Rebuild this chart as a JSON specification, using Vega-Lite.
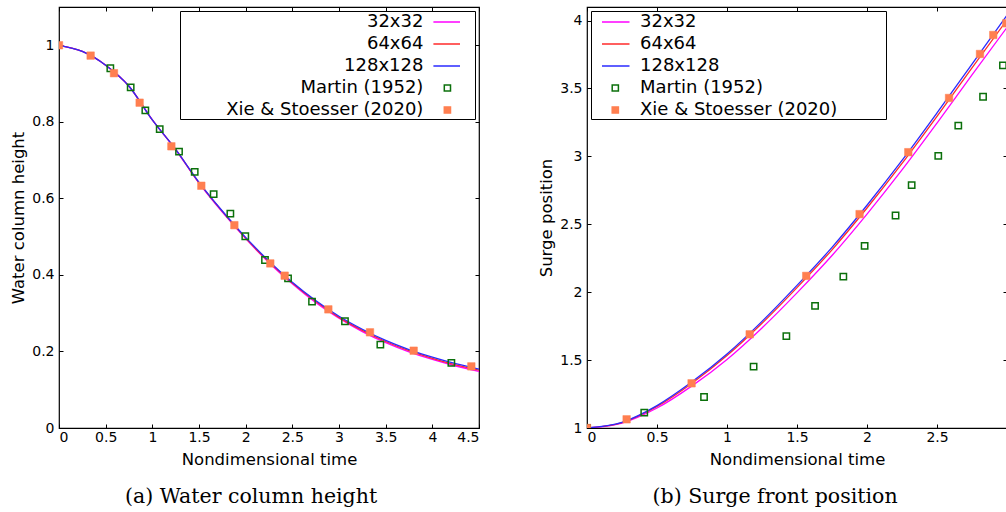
{
  "$schema": "https://vega.github.io/schema/vega-lite/v6.json",
  "padding": {"left": 10, "top": 5, "right": 0, "bottom": 0},
  "spacing": 57,
  "config": {
    "view": {"stroke": "#000", "strokeWidth": 1.2},
    "font": "DejaVu Sans",
    "axis": {"grid": false, "domain": false, "tickColor": "#000", "tickSize": -4, "tickWidth": 1, "labelFont": "DejaVu Sans", "labelFontSize": 14, "labelColor": "#000", "titleFont": "DejaVu Sans", "titleFontSize": 16.5, "titleFontWeight": "normal", "titleColor": "#000"},
    "axisX": {"labelPadding": 6, "titlePadding": 7},
    "axisY": {"labelPadding": 9, "titlePadding": 5}
  },
  "resolve": {"scale": {"color": "independent"}, "legend": {"color": "independent"}},
  "datasets": {
    "d": [
      {"p":"a","s":"32x32","t":0,"v":1.0},{"p":"a","s":"32x32","t":0.25,"v":0.984},{"p":"a","s":"32x32","t":0.5,"v":0.948},{"p":"a","s":"32x32","t":0.75,"v":0.893},{"p":"a","s":"32x32","t":1,"v":0.805},{"p":"a","s":"32x32","t":1.25,"v":0.727},{"p":"a","s":"32x32","t":1.5,"v":0.640},{"p":"a","s":"32x32","t":1.75,"v":0.564},{"p":"a","s":"32x32","t":2,"v":0.495},{"p":"a","s":"32x32","t":2.25,"v":0.432},{"p":"a","s":"32x32","t":2.5,"v":0.377},{"p":"a","s":"32x32","t":2.75,"v":0.328},{"p":"a","s":"32x32","t":3,"v":0.287},{"p":"a","s":"32x32","t":3.25,"v":0.252},{"p":"a","s":"32x32","t":3.5,"v":0.223},{"p":"a","s":"32x32","t":3.75,"v":0.199},{"p":"a","s":"32x32","t":4,"v":0.179},{"p":"a","s":"32x32","t":4.25,"v":0.162},{"p":"a","s":"32x32","t":4.5,"v":0.148},
      {"p":"a","s":"64x64","t":0,"v":1.0},{"p":"a","s":"64x64","t":0.25,"v":0.984},{"p":"a","s":"64x64","t":0.5,"v":0.948},{"p":"a","s":"64x64","t":0.75,"v":0.893},{"p":"a","s":"64x64","t":1,"v":0.805},{"p":"a","s":"64x64","t":1.25,"v":0.728},{"p":"a","s":"64x64","t":1.5,"v":0.641},{"p":"a","s":"64x64","t":1.75,"v":0.566},{"p":"a","s":"64x64","t":2,"v":0.496},{"p":"a","s":"64x64","t":2.25,"v":0.434},{"p":"a","s":"64x64","t":2.5,"v":0.379},{"p":"a","s":"64x64","t":2.75,"v":0.331},{"p":"a","s":"64x64","t":3,"v":0.289},{"p":"a","s":"64x64","t":3.25,"v":0.255},{"p":"a","s":"64x64","t":3.5,"v":0.226},{"p":"a","s":"64x64","t":3.75,"v":0.202},{"p":"a","s":"64x64","t":4,"v":0.182},{"p":"a","s":"64x64","t":4.25,"v":0.165},{"p":"a","s":"64x64","t":4.5,"v":0.151},
      {"p":"a","s":"128x128","t":0,"v":1.0},{"p":"a","s":"128x128","t":0.25,"v":0.984},{"p":"a","s":"128x128","t":0.5,"v":0.948},{"p":"a","s":"128x128","t":0.75,"v":0.893},{"p":"a","s":"128x128","t":1,"v":0.805},{"p":"a","s":"128x128","t":1.25,"v":0.728},{"p":"a","s":"128x128","t":1.5,"v":0.642},{"p":"a","s":"128x128","t":1.75,"v":0.567},{"p":"a","s":"128x128","t":2,"v":0.498},{"p":"a","s":"128x128","t":2.25,"v":0.436},{"p":"a","s":"128x128","t":2.5,"v":0.381},{"p":"a","s":"128x128","t":2.75,"v":0.333},{"p":"a","s":"128x128","t":3,"v":0.292},{"p":"a","s":"128x128","t":3.25,"v":0.258},{"p":"a","s":"128x128","t":3.5,"v":0.229},{"p":"a","s":"128x128","t":3.75,"v":0.205},{"p":"a","s":"128x128","t":4,"v":0.185},{"p":"a","s":"128x128","t":4.25,"v":0.168},{"p":"a","s":"128x128","t":4.5,"v":0.154},
      {"p":"a","s":"Martin (1952)","t":0.55,"v":0.94},{"p":"a","s":"Martin (1952)","t":0.768,"v":0.89},{"p":"a","s":"Martin (1952)","t":0.925,"v":0.83},{"p":"a","s":"Martin (1952)","t":1.079,"v":0.781},{"p":"a","s":"Martin (1952)","t":1.286,"v":0.722},{"p":"a","s":"Martin (1952)","t":1.454,"v":0.669},{"p":"a","s":"Martin (1952)","t":1.657,"v":0.611},{"p":"a","s":"Martin (1952)","t":1.836,"v":0.56},{"p":"a","s":"Martin (1952)","t":1.996,"v":0.501},{"p":"a","s":"Martin (1952)","t":2.207,"v":0.439},{"p":"a","s":"Martin (1952)","t":2.454,"v":0.391},{"p":"a","s":"Martin (1952)","t":2.711,"v":0.33},{"p":"a","s":"Martin (1952)","t":3.064,"v":0.279},{"p":"a","s":"Martin (1952)","t":3.443,"v":0.218},{"p":"a","s":"Martin (1952)","t":4.204,"v":0.17},
      {"p":"a","s":"Xie & Stoesser (2020)","t":0,"v":1.0},{"p":"a","s":"Xie & Stoesser (2020)","t":0.339,"v":0.973},{"p":"a","s":"Xie & Stoesser (2020)","t":0.589,"v":0.927},{"p":"a","s":"Xie & Stoesser (2020)","t":0.864,"v":0.85},{"p":"a","s":"Xie & Stoesser (2020)","t":1.204,"v":0.736},{"p":"a","s":"Xie & Stoesser (2020)","t":1.525,"v":0.633},{"p":"a","s":"Xie & Stoesser (2020)","t":1.879,"v":0.53},{"p":"a","s":"Xie & Stoesser (2020)","t":2.264,"v":0.43},{"p":"a","s":"Xie & Stoesser (2020)","t":2.418,"v":0.398},{"p":"a","s":"Xie & Stoesser (2020)","t":2.886,"v":0.31},{"p":"a","s":"Xie & Stoesser (2020)","t":3.332,"v":0.25},{"p":"a","s":"Xie & Stoesser (2020)","t":3.8,"v":0.202},{"p":"a","s":"Xie & Stoesser (2020)","t":4.418,"v":0.161},
      {"p":"b","s":"32x32","t":0,"v":1.0},{"p":"b","s":"32x32","t":0.25,"v":1.036},{"p":"b","s":"32x32","t":0.5,"v":1.147},{"p":"b","s":"32x32","t":0.75,"v":1.31},{"p":"b","s":"32x32","t":1,"v":1.505},{"p":"b","s":"32x32","t":1.25,"v":1.737},{"p":"b","s":"32x32","t":1.5,"v":1.995},{"p":"b","s":"32x32","t":1.75,"v":2.27},{"p":"b","s":"32x32","t":2,"v":2.575},{"p":"b","s":"32x32","t":2.25,"v":2.9},{"p":"b","s":"32x32","t":2.5,"v":3.245},{"p":"b","s":"32x32","t":2.75,"v":3.6},{"p":"b","s":"32x32","t":3,"v":3.95},
      {"p":"b","s":"64x64","t":0,"v":1.0},{"p":"b","s":"64x64","t":0.25,"v":1.04},{"p":"b","s":"64x64","t":0.5,"v":1.159},{"p":"b","s":"64x64","t":0.75,"v":1.33},{"p":"b","s":"64x64","t":1,"v":1.533},{"p":"b","s":"64x64","t":1.25,"v":1.771},{"p":"b","s":"64x64","t":1.5,"v":2.034},{"p":"b","s":"64x64","t":1.75,"v":2.312},{"p":"b","s":"64x64","t":2,"v":2.62},{"p":"b","s":"64x64","t":2.25,"v":2.948},{"p":"b","s":"64x64","t":2.5,"v":3.295},{"p":"b","s":"64x64","t":2.75,"v":3.652},{"p":"b","s":"64x64","t":3,"v":4.005},
      {"p":"b","s":"128x128","t":0,"v":1.0},{"p":"b","s":"128x128","t":0.25,"v":1.042},{"p":"b","s":"128x128","t":0.5,"v":1.165},{"p":"b","s":"128x128","t":0.75,"v":1.34},{"p":"b","s":"128x128","t":1,"v":1.545},{"p":"b","s":"128x128","t":1.25,"v":1.785},{"p":"b","s":"128x128","t":1.5,"v":2.05},{"p":"b","s":"128x128","t":1.75,"v":2.33},{"p":"b","s":"128x128","t":2,"v":2.64},{"p":"b","s":"128x128","t":2.25,"v":2.97},{"p":"b","s":"128x128","t":2.5,"v":3.32},{"p":"b","s":"128x128","t":2.75,"v":3.68},{"p":"b","s":"128x128","t":3,"v":4.04},
      {"p":"b","s":"Martin (1952)","t":0,"v":1.0},{"p":"b","s":"Martin (1952)","t":0.409,"v":1.113},{"p":"b","s":"Martin (1952)","t":0.836,"v":1.228},{"p":"b","s":"Martin (1952)","t":1.19,"v":1.452},{"p":"b","s":"Martin (1952)","t":1.424,"v":1.676},{"p":"b","s":"Martin (1952)","t":1.629,"v":1.899},{"p":"b","s":"Martin (1952)","t":1.831,"v":2.115},{"p":"b","s":"Martin (1952)","t":1.983,"v":2.341},{"p":"b","s":"Martin (1952)","t":2.204,"v":2.565},{"p":"b","s":"Martin (1952)","t":2.319,"v":2.788},{"p":"b","s":"Martin (1952)","t":2.509,"v":3.004},{"p":"b","s":"Martin (1952)","t":2.652,"v":3.226},{"p":"b","s":"Martin (1952)","t":2.829,"v":3.439},{"p":"b","s":"Martin (1952)","t":2.971,"v":3.67},
      {"p":"b","s":"Xie & Stoesser (2020)","t":0,"v":1.0},{"p":"b","s":"Xie & Stoesser (2020)","t":0.283,"v":1.064},{"p":"b","s":"Xie & Stoesser (2020)","t":0.747,"v":1.329},{"p":"b","s":"Xie & Stoesser (2020)","t":1.162,"v":1.69},{"p":"b","s":"Xie & Stoesser (2020)","t":1.566,"v":2.12},{"p":"b","s":"Xie & Stoesser (2020)","t":1.947,"v":2.575},{"p":"b","s":"Xie & Stoesser (2020)","t":2.295,"v":3.031},{"p":"b","s":"Xie & Stoesser (2020)","t":2.586,"v":3.43},{"p":"b","s":"Xie & Stoesser (2020)","t":2.807,"v":3.754},{"p":"b","s":"Xie & Stoesser (2020)","t":2.902,"v":3.894},{"p":"b","s":"Xie & Stoesser (2020)","t":2.995,"v":3.98}
    ]
  },
  "hconcat": [
    {
      "width": 420, "height": 421,
      "title": {"text": "(a) Water column height", "orient": "bottom", "frame": "bounds", "anchor": "middle", "font": "DejaVu Serif", "fontSize": 20.5, "fontWeight": "normal", "color": "#000", "offset": 19, "dx": 6},
      "data": {"name": "d"},
      "transform": [{"filter": "datum.p == 'a'"}],
      "resolve": {"axis": {"x": "independent", "y": "independent"}},
      "layer": [
        {
          "transform": [{"filter": {"field": "s", "oneOf": ["32x32", "64x64", "128x128"]}}],
          "mark": {"type": "line", "clip": true, "strokeWidth": 1.3, "interpolate": "monotone"},
          "encoding": {
            "x": {"field": "t", "type": "quantitative", "scale": {"domain": [0, 4.5], "nice": false, "zero": false}, "axis": {"title": "Nondimensional time", "values": [0, 0.5, 1, 1.5, 2, 2.5, 3, 3.5, 4, 4.5], "format": "~g"}},
            "y": {"field": "v", "type": "quantitative", "scale": {"domain": [0, 1.1], "nice": false}, "axis": {"title": "Water column height", "values": [0, 0.2, 0.4, 0.6, 0.8, 1], "format": "~g"}},
            "color": {
              "field": "s", "type": "nominal",
              "scale": {"domain": ["32x32", "64x64", "128x128", "Martin (1952)", "Xie & Stoesser (2020)"], "range": ["#ff00ff", "#ff2a2a", "#2a2aff", "#0b700b", "#ff7f50"]},
              "legend": {
                "title": null, "orient": "top-right", "offset": 4, "padding": 0,
                "fillColor": "white", "strokeColor": "black",
                "labelFont": "DejaVu Sans", "labelFontSize": 18, "labelColor": "#000", "labelLimit": 0,
                "labelAlign": "right", "labelOffset": -35,
                "symbolSize": 400, "symbolOffset": 256.4, "symbolStrokeWidth": 1.5, "symbolDash": [26.6, 100], "rowPadding": 2, "symbolType": "stroke",
                "encode": {"symbols": {"update": {
                  "shape": {"signal": "indexof(['Martin (1952)','Xie & Stoesser (2020)'], datum.value) >= 0 ? 'M-0.31,-0.31H0.31V0.31H-0.31Z' : 'M-1.4,0H2.43'"},
                  "fill": {"signal": "datum.value == 'Xie & Stoesser (2020)' ? '#ff7f50' : 'transparent'"},
                  "strokeWidth": {"value": 1.5},
                  "opacity": {"value": 1}
                }}}
              }
            }
          }
        },
        {
          "transform": [{"filter": "datum.s == 'Martin (1952)'"}],
          "mark": {"type": "point", "shape": "square", "filled": false, "strokeWidth": 1.5, "size": 40, "opacity": 1, "clip": true},
          "encoding": {
            "x": {"field": "t", "type": "quantitative", "axis": {"orient": "top", "labels": false, "title": null, "values": [0, 0.5, 1, 1.5, 2, 2.5, 3, 3.5, 4, 4.5]}},
            "y": {"field": "v", "type": "quantitative", "axis": {"orient": "right", "labels": false, "title": null, "values": [0, 0.2, 0.4, 0.6, 0.8, 1]}},
            "color": {"field": "s", "type": "nominal"}
          }
        },
        {
          "transform": [{"filter": "datum.s == 'Xie & Stoesser (2020)'"}],
          "mark": {"type": "point", "shape": "square", "filled": false, "fill": "#ff7f50", "strokeWidth": 0.5, "size": 56, "opacity": 1, "clip": true},
          "encoding": {
            "x": {"field": "t", "type": "quantitative", "axis": null},
            "y": {"field": "v", "type": "quantitative", "axis": null},
            "color": {"field": "s", "type": "nominal"}
          }
        }
      ]
    },
    {
      "width": 420, "height": 421,
      "title": {"text": "(b) Surge front position", "orient": "bottom", "frame": "bounds", "anchor": "middle", "font": "DejaVu Serif", "fontSize": 20.5, "fontWeight": "normal", "color": "#000", "offset": 19, "dx": 2},
      "data": {"name": "d"},
      "transform": [{"filter": "datum.p == 'b'"}],
      "resolve": {"axis": {"x": "independent", "y": "independent"}},
      "layer": [
        {
          "transform": [{"filter": {"field": "s", "oneOf": ["32x32", "64x64", "128x128"]}}],
          "mark": {"type": "line", "clip": true, "strokeWidth": 1.3, "interpolate": "monotone"},
          "encoding": {
            "x": {"field": "t", "type": "quantitative", "scale": {"domain": [0, 3], "nice": false, "zero": false}, "axis": {"title": "Nondimensional time", "values": [0, 0.5, 1, 1.5, 2, 2.5], "format": "~g"}},
            "y": {"field": "v", "type": "quantitative", "scale": {"domain": [1, 4.1], "nice": false, "zero": false}, "axis": {"title": "Surge position", "values": [1, 1.5, 2, 2.5, 3, 3.5, 4], "format": "~g"}},
            "color": {
              "field": "s", "type": "nominal",
              "scale": {"domain": ["32x32", "64x64", "128x128", "Martin (1952)", "Xie & Stoesser (2020)"], "range": ["#ff00ff", "#ff2a2a", "#2a2aff", "#0b700b", "#ff7f50"]},
              "legend": {
                "title": null, "orient": "top-left", "offset": 4, "padding": 0,
                "fillColor": "white", "strokeColor": "black",
                "labelFont": "DejaVu Sans", "labelFontSize": 18, "labelColor": "#000", "labelLimit": 0,
                "labelAlign": "left", "labelOffset": 13.7,
                "symbolSize": 400, "symbolOffset": 13.3, "symbolStrokeWidth": 1.5, "symbolDash": [27.5, 400], "rowPadding": 2, "symbolType": "stroke",
                "encode": {"symbols": {"update": {
                  "shape": {"signal": "indexof(['Martin (1952)','Xie & Stoesser (2020)'], datum.value) >= 0 ? 'M-0.31,-0.31H0.31V0.31H-0.31Z' : 'M-1.33,0H26.74'"},
                  "fill": {"signal": "datum.value == 'Xie & Stoesser (2020)' ? '#ff7f50' : 'transparent'"},
                  "strokeWidth": {"value": 1.5},
                  "opacity": {"value": 1}
                }}}
              }
            }
          }
        },
        {
          "transform": [{"filter": "datum.s == 'Martin (1952)'"}],
          "mark": {"type": "point", "shape": "square", "filled": false, "strokeWidth": 1.5, "size": 40, "opacity": 1, "clip": true},
          "encoding": {
            "x": {"field": "t", "type": "quantitative", "axis": {"orient": "top", "labels": false, "title": null, "values": [0, 0.5, 1, 1.5, 2, 2.5, 3]}},
            "y": {"field": "v", "type": "quantitative", "axis": {"orient": "right", "labels": false, "title": null, "values": [1, 1.5, 2, 2.5, 3, 3.5, 4]}},
            "color": {"field": "s", "type": "nominal"}
          }
        },
        {
          "transform": [{"filter": "datum.s == 'Xie & Stoesser (2020)'"}],
          "mark": {"type": "point", "shape": "square", "filled": false, "fill": "#ff7f50", "strokeWidth": 0.5, "size": 56, "opacity": 1, "clip": true},
          "encoding": {
            "x": {"field": "t", "type": "quantitative", "axis": null},
            "y": {"field": "v", "type": "quantitative", "axis": null},
            "color": {"field": "s", "type": "nominal"}
          }
        }
      ]
    }
  ]
}
